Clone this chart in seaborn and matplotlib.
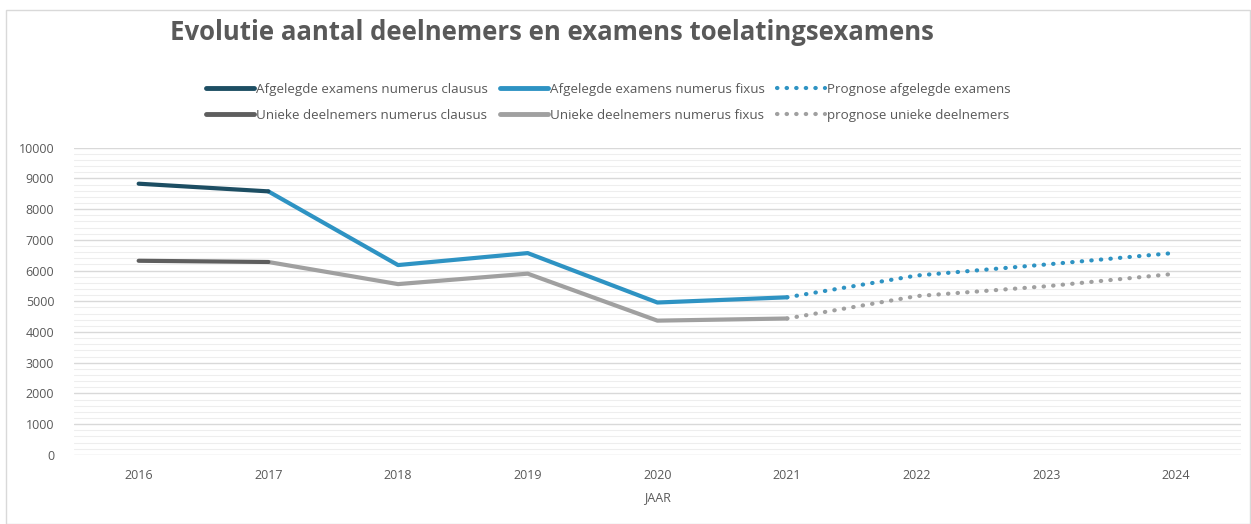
import matplotlib
matplotlib.use("Agg")
import matplotlib.pyplot as plt
import seaborn as sns
import pandas as pd
from matplotlib.lines import Line2D
from matplotlib.patches import Rectangle

sns.set_theme(style="white")
plt.rcParams['font.family'] = ['Open Sans', 'DejaVu Sans']

years = [2016, 2017, 2018, 2019, 2020, 2021, 2022, 2023, 2024]
exams_clausus_years = [2016, 2017]
exams_clausus = [8830, 8580]
exams_fixus_years = [2017, 2018, 2019, 2020, 2021]
exams_fixus = [8580, 6180, 6570, 4960, 5130]
uniq_clausus_years = [2016, 2017]
uniq_clausus = [6320, 6280]
uniq_fixus_years = [2017, 2018, 2019, 2020, 2021]
uniq_fixus = [6280, 5560, 5900, 4370, 4440]
prog_years = [2021, 2022, 2023, 2024]
prog_exams = [5130, 5840, 6200, 6580]
prog_uniq = [4440, 5170, 5490, 5900]

labels = ["Afgelegde examens numerus clausus", "Afgelegde examens numerus fixus",
          "Prognose afgelegde examens", "Unieke deelnemers numerus clausus",
          "Unieke deelnemers numerus fixus", "prognose unieke deelnemers"]

c_dark = "#1d4e63"
c_blue = "#2e93c3"
c_dgrey = "#5e5e5e"
c_lgrey = "#a0a0a0"
txt = "#595959"

fig = plt.figure(figsize=(12.51, 5.24), dpi=100)
ax = fig.add_axes([0.059, 0.132, 0.933, 0.586])

def draw(xs, ys, color, ls, lw):
    df = pd.DataFrame({"x": xs, "y": ys})
    sns.lineplot(data=df, x="x", y="y", ax=ax, color=color, linestyle=ls,
                 linewidth=lw, solid_capstyle="round", dash_capstyle="round")

draw(uniq_fixus_years, uniq_fixus, c_lgrey, "-", 3)
draw(uniq_clausus_years, uniq_clausus, c_dgrey, "-", 3)
draw(prog_years, prog_uniq, c_lgrey, (0, (0.1, 2.2)), 3)
draw(exams_fixus_years, exams_fixus, c_blue, "-", 3)
draw(exams_clausus_years, exams_clausus, c_dark, "-", 3)
draw(prog_years, prog_exams, c_blue, (0, (0.1, 2.2)), 3)

ax.set_xlim(2015.5, 2024.5)
ax.set_ylim(0, 10000)
ax.set_xticks(years)
ax.set_xticklabels([str(y) for y in years])
ax.set_yticks(range(0, 10001, 1000))
ax.set_yticks(range(0, 10001, 200), minor=True)
ax.grid(True, which="major", axis="y", color="#d9d9d9", linewidth=1)
ax.grid(True, which="minor", axis="y", color="#eeeeee", linewidth=0.8)
ax.set_axisbelow(True)
for s in ax.spines.values():
    s.set_visible(False)
ax.tick_params(axis="both", colors=txt, labelsize=9, length=0)
ax.tick_params(axis="x", pad=10)
ax.tick_params(axis="y", pad=14)
ax.set_xlabel("JAAR", color=txt, fontsize=9, labelpad=7)
ax.set_ylabel("")

handles = [
    Line2D([], [], color=c_dark, lw=3.5),
    Line2D([], [], color=c_dgrey, lw=3.5),
    Line2D([], [], color=c_blue, lw=3.5),
    Line2D([], [], color=c_lgrey, lw=3.5),
    Line2D([], [], color=c_blue, lw=3, linestyle=(0, (0.1, 2.2)), dash_capstyle="round"),
    Line2D([], [], color=c_lgrey, lw=3, linestyle=(0, (0.1, 2.2)), dash_capstyle="round"),
]
leg_labels = [labels[0], labels[3], labels[1], labels[4], labels[2], labels[5]]
leg = fig.legend(handles, leg_labels, ncol=3, loc="center left",
                 bbox_to_anchor=(0.155, 0.805), frameon=False, fontsize=9.6,
                 handlelength=3.6, handletextpad=0.15, columnspacing=0.9,
                 labelspacing=1.0)
for t in leg.get_texts():
    t.set_color(txt)

fig.text(0.136, 0.938, "Evolutie aantal deelnemers en examens toelatingsexamens",
         fontsize=18.5, fontweight="bold", color=txt, va="center", ha="left")

fig.patches.append(Rectangle((0.005, 0.0), 0.994, 0.98, transform=fig.transFigure,
                             fill=False, edgecolor="#d9d9d9", linewidth=1))

fig.savefig("out.png", dpi=100, facecolor="white")
